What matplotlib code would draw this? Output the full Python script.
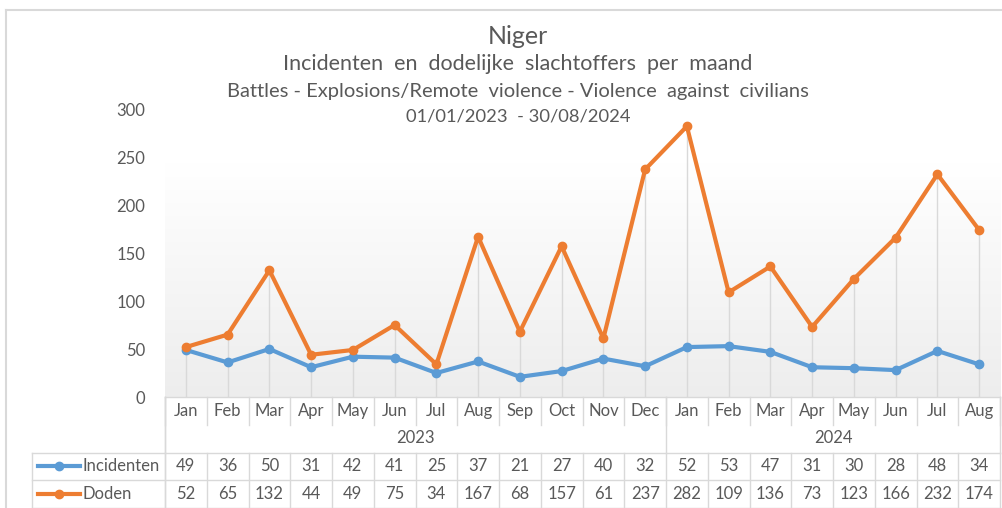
import numpy as np
import matplotlib.pyplot as plt
from matplotlib.lines import Line2D

# data
months = ['Jan', 'Feb', 'Mar', 'Apr', 'May', 'Jun', 'Jul', 'Aug', 'Sep', 'Oct', 'Nov', 'Dec',
          'Jan', 'Feb', 'Mar', 'Apr', 'May', 'Jun', 'Jul', 'Aug']
years = ['2023', '2024']
months_per_year = [12, 8]
incidenten = [49, 36, 50, 31, 42, 41, 25, 37, 21, 27, 40, 32, 52, 53, 47, 31, 30, 28, 48, 34]
doden = [52, 65, 132, 44, 49, 75, 34, 167, 68, 157, 61, 237, 282, 109, 136, 73, 123, 166, 232, 174]

blue = '#5B9BD5'
orange = '#ED7D31'
txt = '#595959'
grid = '#D9D9D9'

plt.rcParams['font.family'] = ['Lato', 'DejaVu Sans']

fig = plt.figure(figsize=(10.02, 5.08), dpi=100)
ax = fig.add_axes([165 / 1002, 1 - 397 / 508, 835 / 1002, 288 / 508])

x = np.arange(len(months))
n = len(months)

# gradient background of plot area
grad = np.linspace(0, 1, 256).reshape(-1, 1)
grad = np.clip(grad / 0.9, 0, 1)
cols = np.ones((256, 1, 3))
shade = np.array([0.93, 0.93, 0.93])
for k in range(3):
    cols[:, 0, k] = shade[k] + (1 - shade[k]) * grad[:, 0]
ax.imshow(cols, extent=[0, 1, 0, 0.9], transform=ax.transAxes, aspect='auto',
          origin='lower', zorder=0)

# drop lines
top = np.maximum(incidenten, doden)
ax.vlines(x, 0, top, color=grid, lw=1, zorder=1)

ax.plot(x, incidenten, color=blue, lw=3, marker='o', ms=6, zorder=3)
ax.plot(x, doden, color=orange, lw=3, marker='o', ms=6, zorder=3)

ax.set_xlim(-0.5, n - 0.5)
ax.set_ylim(0, 300)
ax.set_yticks(range(0, 301, 50))
ax.tick_params(axis='y', length=0, labelsize=12, labelcolor=txt, pad=14)
ax.set_xticks([])
for s in ax.spines.values():
    s.set_visible(False)
ax.patch.set_alpha(0)

# category table below the axis
px = 1 / 288.0
tr = ax.get_xaxis_transform()
def hl(y0, x0, x1):
    ax.plot([x0, x1], [y0, y0], transform=tr, color=grid, lw=1, clip_on=False)
def vl(xx, y0, y1):
    ax.plot([xx, xx], [y0, y1], transform=tr, color=grid, lw=1, clip_on=False)

y_month = (397 - 411) * px
y_year = (397 - 438) * px
y_inc = (397 - 466) * px
y_dod = (397 - 494) * px

hl(0, -0.5, n - 0.5)
for i in range(n):
    ax.text(i, y_month, months[i], transform=tr, ha='center', va='center',
            fontsize=12, color=txt, clip_on=False)
    ax.text(i, y_inc, str(incidenten[i]), transform=tr, ha='center', va='center',
            fontsize=12, color=txt, clip_on=False)
    ax.text(i, y_dod, str(doden[i]), transform=tr, ha='center', va='center',
            fontsize=12, color=txt, clip_on=False)
for i in range(n + 1):
    vl(i - 0.5, 0, (397 - 425) * px)
    vl(i - 0.5, (397 - 453) * px, (397 - 508) * px)
vl(-0.5, 0, (397 - 508) * px)
start = 0
for yr, cnt in zip(years, months_per_year):
    ax.text(start + cnt / 2 - 0.5, y_year, yr, transform=tr, ha='center', va='center',
            fontsize=12, color=txt, clip_on=False)
    vl(start - 0.5, 0, (397 - 453) * px)
    start += cnt
vl(n - 0.5, 0, (397 - 453) * px)

# data table rows with legend keys
xl = -0.5 - (165 - 32) / 835 * n
for yy in [453, 480, 508]:
    hl((397 - yy) * px, xl, n - 0.5)
vl(xl, (397 - 453) * px, (397 - 508) * px)
for yy, lab, c in [(y_inc, 'Incidenten', blue), (y_dod, 'Doden', orange)]:
    k0 = -0.5 - (165 - 38) / 835 * n
    k1 = -0.5 - (165 - 80) / 835 * n
    ax.add_line(Line2D([k0, k1], [yy, yy], transform=tr, color=c, lw=3, clip_on=False))
    ax.add_line(Line2D([(k0 + k1) / 2], [yy], transform=tr, color=c, marker='o', ms=6,
                       clip_on=False))
    ax.text(-0.5 - (165 - 83) / 835 * n, yy, lab, transform=tr, ha='left', va='center',
            fontsize=12, color=txt, clip_on=False)

# titles
fig.text(518 / 1002, 1 - 37 / 508, 'Niger', ha='center', va='center', fontsize=18, color=txt)
fig.text(518 / 1002, 1 - 64 / 508, 'Incidenten  en  dodelijke  slachtoffers  per  maand',
         ha='center', va='center', fontsize=15.5, color=txt)
fig.text(518 / 1002, 1 - 92 / 508, 'Battles - Explosions/Remote  violence - Violence  against  civilians',
         ha='center', va='center', fontsize=14.5, color=txt)
fig.text(518 / 1002, 1 - 117 / 508, '01/01/2023  - 30/08/2024',
         ha='center', va='center', fontsize=13.2, color=txt)

# chart border
fig.add_artist(Line2D([6 / 1002, 6 / 1002], [0, 1 - 10 / 508], transform=fig.transFigure,
                      color=grid, lw=1.5))
fig.add_artist(Line2D([6 / 1002, 1], [1 - 10 / 508, 1 - 10 / 508], transform=fig.transFigure,
                      color=grid, lw=1.5))

fig.savefig('out.png', dpi=100)
